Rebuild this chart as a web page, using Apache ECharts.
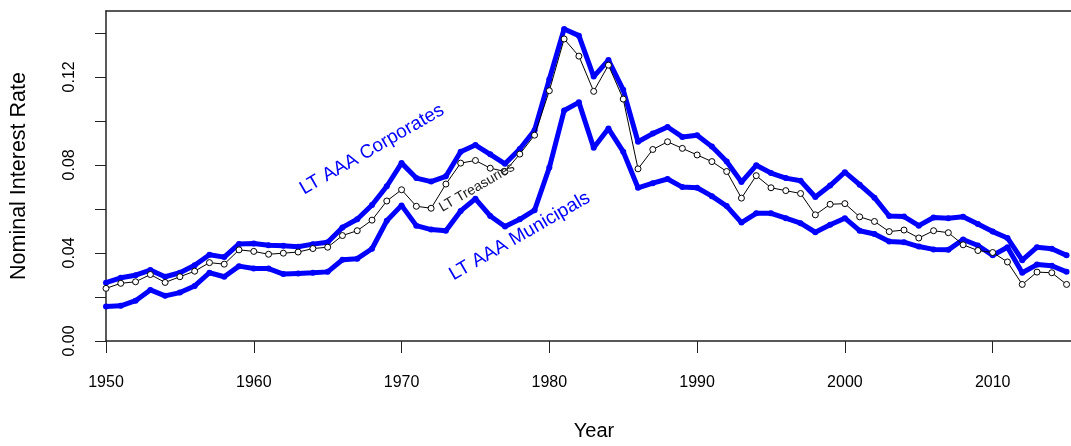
<!DOCTYPE html>
<html>
<head>
<meta charset="utf-8">
<script src="https://cdn.jsdelivr.net/npm/echarts@6/dist/echarts.min.js"></script>
<style>
html,body{margin:0;padding:0;background:#fff;}
#chart{width:1071px;height:446px;}
</style>
</head>
<body>
<div id="chart"></div>
<script>
const years = [1950,1951,1952,1953,1954,1955,1956,1957,1958,1959,
  1960,1961,1962,1963,1964,1965,1966,1967,1968,1969,
  1970,1971,1972,1973,1974,1975,1976,1977,1978,1979,
  1980,1981,1982,1983,1984,1985,1986,1987,1988,1989,
  1990,1991,1992,1993,1994,1995,1996,1997,1998,1999,
  2000,2001,2002,2003,2004,2005,2006,2007,2008,2009,
  2010,2011,2012,2013,2014,2015];

const corporates = [0.0265,0.0287,0.0299,0.0322,0.0292,0.0310,0.0344,0.0392,0.0381,0.0441,
  0.0443,0.0435,0.0433,0.0428,0.0440,0.0449,0.0516,0.0553,0.0618,0.0703,
  0.0808,0.0740,0.0724,0.0748,0.0860,0.0890,0.0848,0.0805,0.0872,0.0957,
  0.1189,0.1417,0.1387,0.1201,0.1276,0.1141,0.0905,0.0942,0.0972,0.0927,
  0.0935,0.0883,0.0815,0.0722,0.0798,0.0763,0.0740,0.0728,0.0654,0.0706,
  0.0767,0.0710,0.0651,0.0568,0.0565,0.0524,0.0561,0.0558,0.0564,0.0531,
  0.0497,0.0468,0.0367,0.0426,0.0419,0.0389];

const treasuries = [0.0239,0.0262,0.0269,0.0302,0.0266,0.0292,0.0317,0.0356,0.0349,0.0414,
  0.0407,0.0394,0.0399,0.0404,0.0420,0.0426,0.0479,0.0501,0.0549,0.0636,
  0.0687,0.0612,0.0603,0.0713,0.0808,0.0820,0.0785,0.0770,0.0849,0.0935,
  0.1137,0.1372,0.1294,0.1134,0.1253,0.1099,0.0782,0.0870,0.0905,0.0875,
  0.0845,0.0815,0.0770,0.0649,0.0751,0.0696,0.0683,0.0670,0.0573,0.0621,
  0.0624,0.0564,0.0543,0.0497,0.0504,0.0468,0.0501,0.0492,0.0437,0.0411,
  0.0402,0.0359,0.0257,0.0313,0.0310,0.0257];

const municipals = [0.0157,0.0160,0.0183,0.0232,0.0205,0.0220,0.0250,0.0310,0.0292,0.0340,
  0.0329,0.0329,0.0304,0.0307,0.0310,0.0314,0.0369,0.0374,0.0419,0.0546,
  0.0616,0.0524,0.0506,0.0501,0.0591,0.0646,0.0568,0.0520,0.0553,0.0594,
  0.0788,0.1047,0.1084,0.0878,0.0965,0.0860,0.0696,0.0717,0.0736,0.0699,
  0.0696,0.0658,0.0613,0.0538,0.0580,0.0580,0.0558,0.0535,0.0494,0.0528,
  0.0558,0.0501,0.0486,0.0452,0.0449,0.0429,0.0416,0.0414,0.0461,0.0434,
  0.0389,0.0426,0.0310,0.0347,0.0342,0.0314];

const xTicks = [1950,1960,1970,1980,1990,2000,2010];
const yTicks = [0,0.02,0.04,0.06,0.08,0.10,0.12,0.14];
const yLabels = [0,0.04,0.08,0.12];

// annotation texts: [text, year, value, fontSize, color]
const annotations = [
  ['LT AAA Corporates', 1968.0, 0.0870, 19, '#0000FF'],
  ['LT AAA Municipals', 1978.0, 0.0476, 19, '#0000FF'],
  ['LT Treasuries', 1975.1, 0.0698, 14, '#222222']
];

const FONT = 'Liberation Sans, Arial, Helvetica, sans-serif';
const AX = '#222';

const pairs = arr => years.map((y, i) => [y, arr[i]]);

const chart = echarts.init(document.getElementById('chart'), null, {renderer: 'canvas'});
const option = {
  animation: false,
  backgroundColor: '#fff',
  grid: {left: 106, right: 0, top: 11, bottom: 101, containLabel: false},
  xAxis: [{
    type: 'value', min: 1950, max: 2015.3, position: 'bottom',
    name: 'Year', nameLocation: 'middle', nameGap: 80,
    nameTextStyle: {fontFamily: FONT, fontSize: 20, color: '#000', padding: [0, 0, 0, 11]},
    axisLine: {show: true, onZero: false, lineStyle: {color: AX, width: 1.5}},
    axisTick: {show: true, inside: false, length: 12, customValues: xTicks, lineStyle: {color: AX, width: 1}},
    axisLabel: {show: true, margin: 34, customValues: xTicks, fontFamily: FONT, fontSize: 16, color: '#000',
      formatter: v => String(Math.round(v))},
    splitLine: {show: false}
  }, {
    type: 'value', min: 1950, max: 2015.3, position: 'top',
    axisLine: {show: true, onZero: false, lineStyle: {color: AX, width: 1.5}},
    axisTick: {show: false}, axisLabel: {show: false}, splitLine: {show: false}
  }],
  yAxis: {
    type: 'value', min: 0, max: 0.1499,
    name: 'Nominal Interest Rate', nameLocation: 'middle', nameGap: 76, nameRotate: 90,
    nameTextStyle: {fontFamily: FONT, fontSize: 21.5, color: '#000'},
    axisLine: {show: true, onZero: false, lineStyle: {color: AX, width: 1.5}},
    axisTick: {show: true, inside: false, length: 11, customValues: yTicks, lineStyle: {color: AX, width: 1}},
    axisLabel: {show: true, rotate: 90, margin: 28, customValues: yLabels, fontFamily: FONT, fontSize: 16, color: '#000',
      formatter: v => v.toFixed(2)},
    splitLine: {show: false}
  },
  series: [
    {
      name: 'LT AAA Corporates', type: 'line', data: pairs(corporates),
      lineStyle: {color: '#0000FF', width: 5}, itemStyle: {color: '#0000FF'},
      symbol: 'circle', symbolSize: 6, showSymbol: true, z: 2
    },
    {
      name: 'LT AAA Municipals', type: 'line', data: pairs(municipals),
      lineStyle: {color: '#0000FF', width: 5}, itemStyle: {color: '#0000FF'},
      symbol: 'circle', symbolSize: 6, showSymbol: true, z: 3
    },
    {
      name: 'LT Treasuries', type: 'line', data: pairs(treasuries),
      lineStyle: {color: '#000', width: 1}, itemStyle: {color: '#fff', borderColor: '#000', borderWidth: 1},
      symbol: 'circle', symbolSize: 6, showSymbol: true, z: 4
    }
  ]
};
chart.setOption(option);

const graphics = annotations.map(a => {
  const p = chart.convertToPixel({xAxisIndex: 0, yAxisIndex: 0}, [a[1], a[2]]);
  return {
    type: 'text', x: p[0], y: p[1], rotation: 30 * Math.PI / 180, z: 10,
    style: {text: a[0], fontFamily: FONT, fontSize: a[3], fill: a[4], align: 'center', verticalAlign: 'middle'}
  };
});
chart.setOption({graphic: graphics});
</script>
</body>
</html>
